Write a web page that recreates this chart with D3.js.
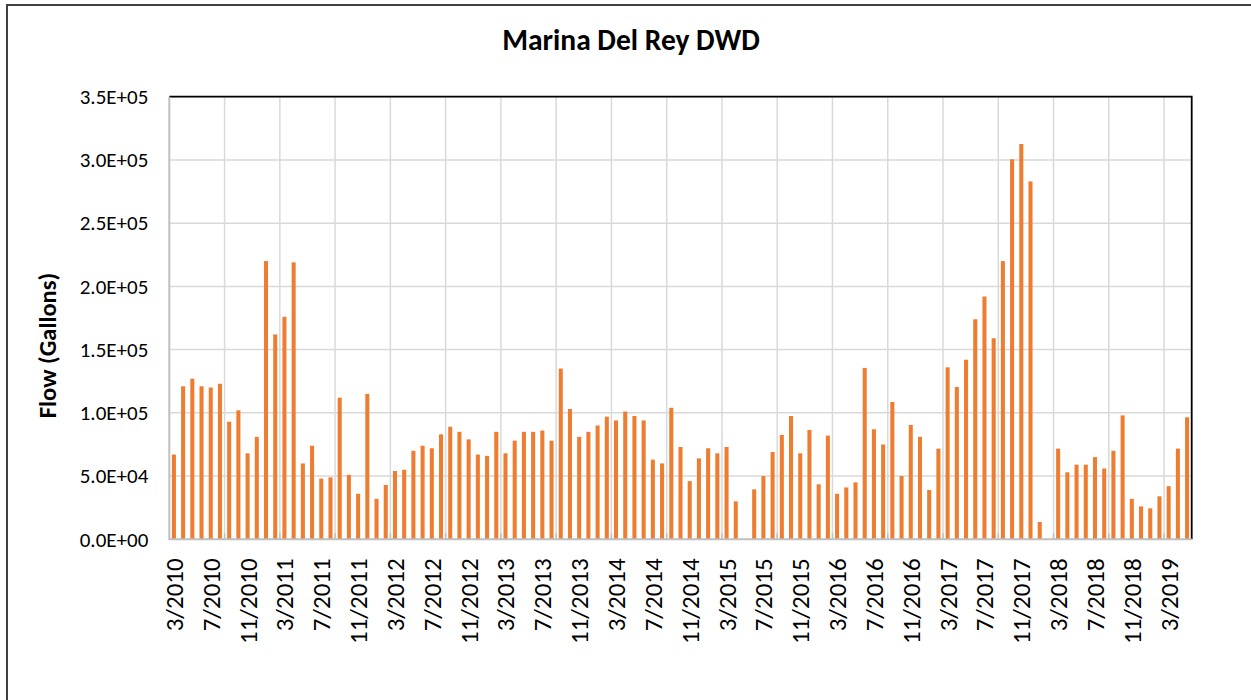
<!DOCTYPE html>
<html>
<head>
<meta charset="utf-8">
<script src="https://cdn.jsdelivr.net/npm/d3@7"></script>
<style>
  body { margin: 0; background: #fff; }
  text { font-family: Carlito, Lato, "Liberation Sans", sans-serif; }
</style>
</head>
<body>
<div id="chart"></div>
<script>
const width = 1251;
const height = 700;
const margin = { top: 96.7, right: 59.3, bottom: 160.7, left: 169.3 };

// monthly flow, gallons, 3/2010 .. 5/2019 (null = no data)
const flow = [
  67000, 121000, 127000, 121000, 120000, 123000, 93000, 102000, 68000, 81000,
  220000, 162000, 176000, 219000, 60000, 74000, 48000, 49000, 112000, 51000,
  36000, 115000, 32000, 43000, 54000, 55000, 70000, 74000, 72000, 83000,
  89000, 85000, 79000, 67000, 66000, 85000, 68000, 78000, 85000, 85000,
  86000, 78000, 135000, 103000, 81000, 85000, 90000, 97000, 94000, 101000,
  97500, 94000, 63000, 60000, 104000, 73000, 46000, 64000, 72000, 68000,
  73000, 30000, null, 39500, 50000, 69000, 82500, 97500, 68000, 86500,
  43500, 82000, 36000, 41000, 45000, 135500, 87000, 75000, 108600, 50000,
  90400, 81000, 39000, 71700, 136000, 120500, 142000, 174000, 192000, 159000,
  220000, 300500, 312600, 283000, 13700, null, 71700, 53000, 59000, 59000,
  65000, 56000, 70000, 98000, 32000, 26000, 24500, 34000, 42000, 71700,
  96500
];

const firstMonth = new Date(2010, 2, 1);
const months = d3.timeMonth.range(firstMonth, d3.timeMonth.offset(firstMonth, flow.length))
  .map(d => `${d.getMonth() + 1}/${d.getFullYear()}`);

const tickLabels = [
  "3/2010", "7/2010", "11/2010", "3/2011", "7/2011", "11/2011", "3/2012",
  "7/2012", "11/2012", "3/2013", "7/2013", "11/2013", "3/2014", "7/2014",
  "11/2014", "3/2015", "7/2015", "11/2015", "3/2016", "7/2016", "11/2016",
  "3/2017", "7/2017", "11/2017", "3/2018", "7/2018", "11/2018", "3/2019"
];
const yTicks = [0, 50000, 100000, 150000, 200000, 250000, 300000, 350000];

const data = months.map((m, i) => ({ month: m, value: flow[i] }));

const svg = d3.select("#chart")
  .append("svg")
  .attr("width", width)
  .attr("height", height);

svg.append("rect")
  .attr("width", width).attr("height", height)
  .attr("fill", "#fff");

// outer chart border
svg.append("rect")
  .attr("x", 7).attr("y", 5)
  .attr("width", width + 20).attr("height", height + 20)
  .attr("fill", "none")
  .attr("stroke", "#404040")
  .attr("stroke-width", 2);

const x = d3.scaleBand()
  .domain(months)
  .range([margin.left, width - margin.right])
  .paddingInner(0.56)
  .paddingOuter(0.28);

const y = d3.scaleLinear()
  .domain([0, 350000])
  .range([height - margin.bottom, margin.top]);

const step = x.step();
const x0 = margin.left;
const x1 = width - margin.right;
const yBottom = y(0);
const yTop = y(350000);

// gridlines
svg.append("g")
  .selectAll("line")
  .data(yTicks.slice(1))
  .enter()
  .append("line")
  .attr("x1", x0).attr("x2", x1)
  .attr("y1", d => y(d)).attr("y2", d => y(d))
  .attr("stroke", "#d9d9d9")
  .attr("stroke-width", 1.5);

// vertical gridlines every 6 months, on category boundaries
const vLines = months.filter((m, i) => i > 0 && i % 6 === 0);
svg.append("g")
  .selectAll("line")
  .data(vLines)
  .enter()
  .append("line")
  .attr("x1", d => x(d) - (step - x.bandwidth()) / 2)
  .attr("x2", d => x(d) - (step - x.bandwidth()) / 2)
  .attr("y1", yTop).attr("y2", yBottom)
  .attr("stroke", "#d9d9d9")
  .attr("stroke-width", 1.5);

// bars
svg.append("g")
  .selectAll("rect")
  .data(data.filter(d => d.value != null))
  .enter()
  .append("rect")
  .attr("x", d => x(d.month))
  .attr("y", d => y(d.value))
  .attr("width", x.bandwidth())
  .attr("height", d => yBottom - y(d.value))
  .attr("fill", "#ed7d31");

// small tick marks at the bottom on gridline positions
svg.append("g")
  .selectAll("line")
  .data(vLines)
  .enter()
  .append("line")
  .attr("x1", d => x(d) - (step - x.bandwidth()) / 2)
  .attr("x2", d => x(d) - (step - x.bandwidth()) / 2)
  .attr("y1", yBottom - 6).attr("y2", yBottom)
  .attr("stroke", "#bfbfbf")
  .attr("stroke-width", 1.5);

// plot area border: black top/right, gray axes left/bottom
svg.append("path")
  .attr("d", `M${x0},${yTop}H${x1}V${yBottom}`)
  .attr("fill", "none")
  .attr("stroke", "#000")
  .attr("stroke-width", 1.8);

svg.append("path")
  .attr("d", `M${x0},${yTop}V${yBottom}H${x1}`)
  .attr("fill", "none")
  .attr("stroke", "#bfbfbf")
  .attr("stroke-width", 2);

// y axis
const fmt = d => {
  const [m, e] = d.toExponential(1).split("e");
  return `${m}E${e[0] === "-" ? "-" : "+"}${String(Math.abs(+e)).padStart(2, "0")}`;
};

const yAxis = svg.append("g")
  .attr("transform", `translate(${x0},0)`)
  .call(d3.axisLeft(y).tickValues(yTicks).tickFormat(fmt).tickSize(0).tickPadding(21));
yAxis.select(".domain").remove();
yAxis.selectAll("text")
  .style("font-size", "21px")
  .attr("fill", "#000");

// x axis
const xAxis = svg.append("g")
  .attr("transform", `translate(0,${yBottom})`)
  .call(d3.axisBottom(x).tickValues(tickLabels).tickSize(0));
xAxis.select(".domain").remove();
xAxis.selectAll("text")
  .attr("transform", "rotate(-90)")
  .attr("x", -19)
  .attr("y", 0)
  .attr("dy", "0.36em")
  .attr("text-anchor", "end")
  .attr("fill", "#000")
  .style("font-size", "25px");

// title
svg.append("text")
  .attr("x", 631)
  .attr("y", 50)
  .attr("text-anchor", "middle")
  .style("font-size", "29.5px")
  .style("font-weight", "bold")
  .text("Marina Del Rey DWD");

// y axis title
svg.append("text")
  .attr("transform", `translate(47.5, ${(yTop + yBottom) / 2 + 27.5}) rotate(-90)`)
  .attr("text-anchor", "middle")
  .attr("dy", "0.35em")
  .style("font-size", "24.5px")
  .style("font-weight", "bold")
  .text("Flow (Gallons)");
</script>
</body>
</html>
